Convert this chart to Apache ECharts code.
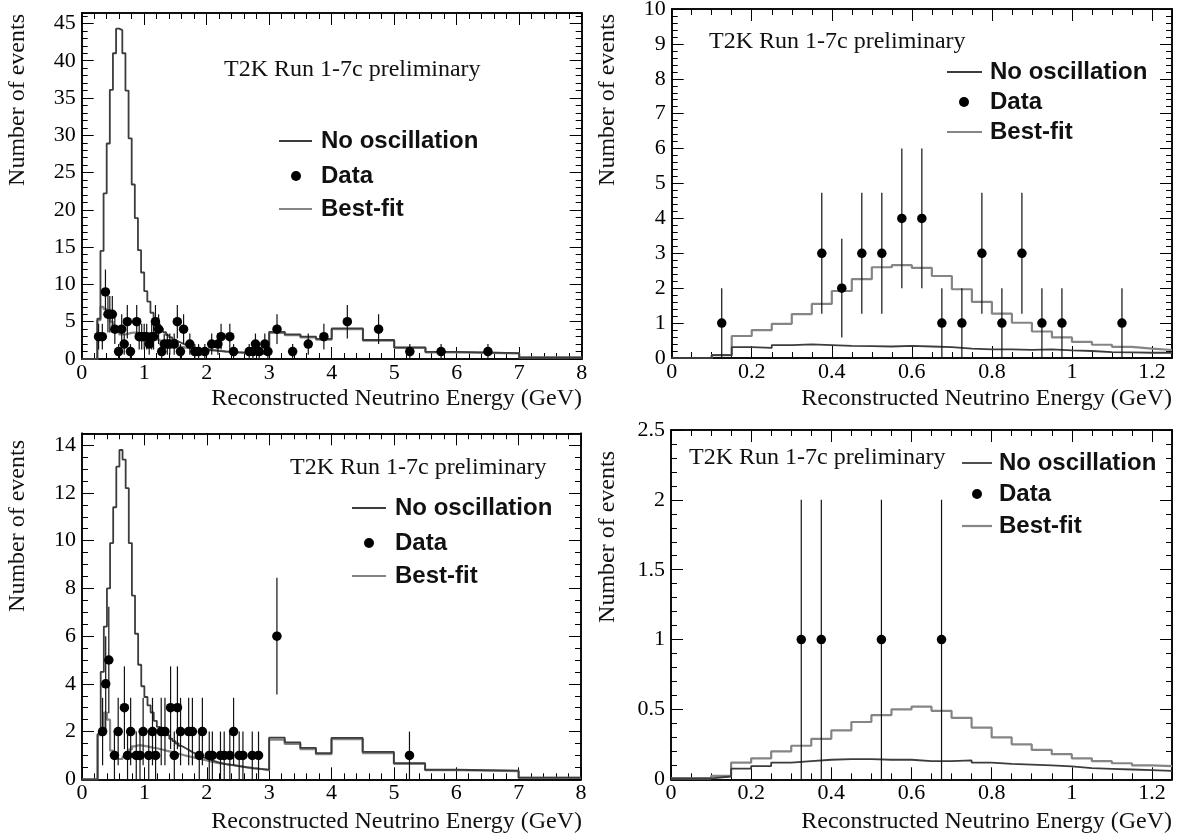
<!DOCTYPE html>
<html><head><meta charset="utf-8">
<script src="https://cdn.jsdelivr.net/npm/echarts@6/dist/echarts.min.js"></script>
<style>html,body{margin:0;padding:0;background:#fff}#c{width:1184px;height:836px}</style>
</head><body><div id="c"></div>
<script>
// ---------------- DATA ----------------
const FINE_W = 0.05;
const COARSE_EDGES = [3.0, 3.25, 3.5, 3.75, 4.0, 4.5, 5.0, 5.5, 6.0, 7.0, 8.0];
const LABELS = {title: 'T2K Run 1-7c preliminary', noOsc: 'No oscillation', data: 'Data', best: 'Best-fit',
  xTitle: 'Reconstructed Neutrino Energy (GeV)', yTitle: 'Number of events'};

// Panel 1 (top-left): 0.05 GeV bins 0-3 GeV, then coarse bins 3-8 GeV
const p1NoOscFine = [0,0,0,0,0, 5.4,14.5,22.2,28.9,36.1, 41.0,44.3,44.1,41.0,36.0, 29.6,23.4,18.9,14.6,11.6,
  9.1,7.7,6.2,5.4,4.7, 4.1,3.6,3.2,2.9,2.6, 2.35,2.15,1.95,1.8,1.65, 1.55,1.47,1.4,1.34,1.3,
  1.24,1.19,1.15,1.1,1.06, 1.02,0.99,0.96,0.93,0.9, 0.88,0.86,0.84,0.82,0.8, 0.78,0.76,0.74,0.72,0.7];
const p1BestFine = [0,0,0,0,0, 5.2,7.0,6.7,6.0,5.0, 4.2,3.6,3.3,3.3,3.4, 3.5,3.55,3.5,3.4,3.3,
  3.1,2.95,2.8,2.65,2.5, 2.35,2.2,2.05,1.9,1.8, 1.7,1.62,1.55,1.5,1.45, 1.4,1.36,1.32,1.28,1.25,
  1.2,1.16,1.12,1.08,1.04, 1.0,0.97,0.94,0.91,0.88, 0.86,0.84,0.82,0.8,0.78, 0.76,0.74,0.72,0.7,0.68];
const p1NoOscCoarse = [3.65,3.3,3.0,2.7,4.1,2.55,1.55,0.95,0.78,0.2];
const p1BestCoarse = [3.5,3.2,2.9,2.6,4.0,2.45,1.5,0.9,0.75,0.2];
const p1DataE = [0.27,0.33,0.38,0.42,0.45,0.49,0.53,0.59,0.64,0.68,0.73,0.78,0.88,0.92,0.96,1.00,1.04,1.08,
  1.12,1.15,1.18,1.23,1.28,1.32,1.37,1.41,1.48,1.53,1.58,1.63,1.73,1.81,1.87,1.97,2.08,2.18,2.23,2.37,2.43,
  2.68,2.74,2.78,2.84,2.93,2.98,3.125,3.375,3.625,3.875,4.25,4.75,5.25,5.75,6.5];
const p1DataN = [3,3,9,6,6,6,4,1,4,2,5,1,5,3,3,3,3,2,3,3,5,4,1,2,2,2,2,5,1,4,2,1,1,1,2,2,3,3,1,1,1,2,1,2,1,
  4,1,2,3,5,4,1,1,1];

// Panel 2 (top-right): 0.05 GeV bins 0-1.25 GeV
const p2Best = [0,0,0.08,0.63,0.8, 0.98,1.26,1.55,1.92,2.26, 2.6,2.66,2.58,2.35,1.97, 1.61,1.27,1.01,0.76,0.59, 0.46,0.38,0.32,0.27,0.23];
const p2NoOsc = [0,0,0.08,0.31,0.29, 0.37,0.39,0.37,0.35,0.34, 0.33,0.35,0.33,0.31,0.27, 0.25,0.25,0.23,0.25,0.22, 0.2,0.17,0.16,0.15,0.15];
const p2DataE = [0.125,0.375,0.425,0.475,0.525,0.575,0.625,0.675,0.725,0.775,0.825,0.875,0.925,0.975,1.125];
const p2DataN = [1,3,2,3,3,4,4,1,1,3,1,3,1,1,1];

// Panel 3 (bottom-left)
const p3NoOscFine = [0,0,0,0,0, 1.9,4.5,6.4,8.0,9.9, 11.4,13.1,13.8,13.4,12.2, 9.9,7.7,6.1,4.8,3.9,
  3.45,3.1,2.8,2.45,2.2, 2.05,1.95,1.85,1.7,1.6, 1.5,1.4,1.32,1.25,1.17, 1.1,1.03,0.97,0.92,0.87,
  0.82,0.78,0.74,0.7,0.67, 0.64,0.62,0.6,0.58,0.56, 0.54,0.52,0.5,0.49,0.47, 0.46,0.44,0.43,0.42,0.4];
const p3BestFine = [0,0,0,0,0, 1.85,1.9,2.8,2.5,1.2, 0.95,0.85,0.85,0.95,1.1, 1.25,1.38,1.42,1.42,1.4,
  1.38,1.35,1.32,1.3,1.27, 1.24,1.2,1.17,1.14,1.1, 1.07,1.04,1.0,0.97,0.94, 0.91,0.88,0.85,0.82,0.79,
  0.76,0.73,0.7,0.68,0.66, 0.64,0.62,0.6,0.58,0.56, 0.54,0.52,0.5,0.48,0.46, 0.45,0.44,0.42,0.4,0.38];
const p3NoOscCoarse = [1.75,1.55,1.32,1.1,1.74,1.15,0.68,0.4,0.36,0.07];
const p3BestCoarse = [1.66,1.48,1.26,1.05,1.68,1.1,0.65,0.38,0.34,0.06];
const p3DataE = [0.33,0.38,0.43,0.52,0.58,0.68,0.73,0.78,0.87,0.93,0.98,1.07,1.13,1.18,1.27,1.33,1.42,1.48,
  1.53,1.58,1.71,1.77,1.88,1.93,2.04,2.09,2.22,2.28,2.37,2.43,2.52,2.58,2.73,2.83,3.125,5.25];
const p3DataN = [2,4,5,1,2,3,1,2,1,1,2,1,2,1,2,2,3,1,3,2,2,2,1,2,1,1,1,1,1,2,1,1,1,1,6,1];

// Panel 4 (bottom-right)
const p4Best = [0.007,0.007,0.024,0.12,0.15, 0.2,0.24,0.29,0.35,0.41, 0.46,0.5,0.52,0.49,0.44, 0.37,0.3,0.25,0.21,0.18, 0.15,0.13,0.115,0.1,0.095];
const p4NoOsc = [0.007,0.007,0.02,0.076,0.095, 0.12,0.13,0.14,0.145,0.145, 0.14,0.14,0.13,0.13,0.135, 0.12,0.11,0.105,0.1,0.093, 0.08,0.075,0.07,0.065,0.06];
const p4DataE = [0.325,0.375,0.525,0.675];
const p4DataN = [1,1,1,1];

// ---------------- BUILD ----------------
const SERIF = '"Liberation Serif","Times New Roman",serif';
const SANS = '"Liberation Sans",Arial,Helvetica,sans-serif';
const C_NOOSC = '#3c3c3c', C_BEST = '#858585', C_DATA = '#000000';

function fineEdges(n) { const e = []; for (let k = 0; k <= n; k++) e.push(+(k * FINE_W).toFixed(3)); return e; }
function stepData(edges, vals) {
  const d = vals.map((v, i) => [edges[i], v]);
  d.push([edges[vals.length], vals[vals.length - 1]]);
  return d;
}
const wideEdges = fineEdges(60).concat(COARSE_EDGES.slice(1));
const narrowEdges = fineEdges(25);

const panels = [
  {grid: {left: 81.7, top: 13, width: 500, height: 346}, x: [0, 8, 1, 0.2], y: [0, 46.4, 5, 1],
   noOsc: stepData(wideEdges, p1NoOscFine.concat(p1NoOscCoarse)), best: stepData(wideEdges, p1BestFine.concat(p1BestCoarse)),
   dE: p1DataE, dN: p1DataN,
   title: [224, 70], leg: {x1: 279, x2: 312, tx: 321, ys: [141, 176, 209], dot: 296},
   yt: [18, 14], xt: [582, 399]},
  {grid: {left: 671.7, top: 9, width: 500.3, height: 349}, x: [0, 1.25, 0.2, 0.05], y: [0, 10, 1, 0.2],
   noOsc: stepData(narrowEdges, p2NoOsc), best: stepData(narrowEdges, p2Best),
   dE: p2DataE, dN: p2DataN,
   title: [709, 42], leg: {x1: 947, x2: 982, tx: 990, ys: [72, 102, 132], dot: 964},
   yt: [608, 14], xt: [1172, 399]},
  {grid: {left: 82, top: 433.3, width: 499, height: 346}, x: [0, 8, 1, 0.2], y: [0, 14.5, 2, 0.5],
   noOsc: stepData(wideEdges, p3NoOscFine.concat(p3NoOscCoarse)), best: stepData(wideEdges, p3BestFine.concat(p3BestCoarse)),
   dE: p3DataE, dN: p3DataN,
   title: [290, 468], leg: {x1: 352, x2: 386, tx: 395, ys: [508, 543, 576], dot: 369},
   yt: [18, 440], xt: [582, 822]},
  {grid: {left: 671, top: 430, width: 501, height: 349.3}, x: [0, 1.25, 0.2, 0.05], y: [0, 2.5, 0.5, 0.1],
   noOsc: stepData(narrowEdges, p4NoOsc), best: stepData(narrowEdges, p4Best),
   dE: p4DataE, dN: p4DataN,
   title: [689, 458], leg: {x1: 962, x2: 992, tx: 999, ys: [463, 494, 526], dot: 977},
   yt: [608, 451], xt: [1172, 822]}
];

function fmt(step) {
  return v => { const r = v / step; if (Math.abs(r - Math.round(r)) > 1e-6) return ''; return String(+v.toFixed(3)); };
}

const grids = [], xAxes = [], yAxes = [], series = [], graphics = [];
panels.forEach((p, gi) => {
  grids.push(Object.assign({outerBoundsMode: 'none', containLabel: false}, p.grid));
  const lineStyle = {color: '#000', width: 1.5};
  const mk = (kind, rng, pos, major, labels) => ({
    type: 'value', gridIndex: gi, position: pos, min: rng[0], max: rng[1],
    interval: major ? rng[2] : rng[3],
    splitLine: {show: false},
    axisLine: {show: true, onZero: false, lineStyle},
    axisTick: {show: true, inside: true, length: major ? 12 : 6, lineStyle: {color: '#000', width: 1}},
    axisLabel: labels ? {show: true, margin: kind === 'x' ? 3 : 6, fontFamily: SERIF, fontSize: 22, color: '#000',
      formatter: fmt(rng[2]), showMinLabel: true, showMaxLabel: true, hideOverlap: false} : {show: false}
  });
  xAxes.push(mk('x', p.x, 'bottom', true, true), mk('x', p.x, 'bottom', false, false),
             mk('x', p.x, 'top', true, false), mk('x', p.x, 'top', false, false));
  yAxes.push(mk('y', p.y, 'left', true, true), mk('y', p.y, 'left', false, false),
             mk('y', p.y, 'right', true, false), mk('y', p.y, 'right', false, false));
  const ax = {xAxisIndex: gi * 4, yAxisIndex: gi * 4};
  series.push(Object.assign({type: 'line', name: LABELS.best, step: 'end', showSymbol: false, data: p.best,
    lineStyle: {color: C_BEST, width: 2.2}, z: 2, animation: false, clip: true}, ax));
  series.push(Object.assign({type: 'line', name: LABELS.noOsc, step: 'end', showSymbol: false, data: p.noOsc,
    lineStyle: {color: C_NOOSC, width: 1.8}, z: 3, animation: false, clip: true}, ax));
  series.push(Object.assign({type: 'custom', name: 'err', coordinateSystem: 'cartesian2d', animation: false, z: 4,
    data: p.dE.map((e, i) => [e, p.dN[i], Math.sqrt(p.dN[i])]),
    renderItem: (params, api) => {
      const x = api.value(0), n = api.value(1), s = api.value(2);
      const a = api.coord([x, n - s]), b = api.coord([x, n + s]);
      return {type: 'line', shape: {x1: a[0], y1: a[1], x2: b[0], y2: b[1]}, style: {stroke: '#111', lineWidth: 1.2}};
    }}, ax));
  series.push(Object.assign({type: 'scatter', name: LABELS.data, symbol: 'circle', symbolSize: 9.5,
    itemStyle: {color: C_DATA, opacity: 1}, data: p.dE.map((e, i) => [e, p.dN[i]]), z: 5, animation: false}, ax));

  // texts
  graphics.push({type: 'text', x: p.title[0], y: p.title[1], style: {text: LABELS.title, font: '24px ' + SERIF,
    fill: '#111', align: 'left', verticalAlign: 'middle'}});
  const L = p.leg;
  graphics.push({type: 'line', shape: {x1: L.x1, y1: L.ys[0], x2: L.x2, y2: L.ys[0]}, style: {stroke: C_NOOSC, lineWidth: 1.8}});
  graphics.push({type: 'circle', shape: {cx: L.dot, cy: L.ys[1], r: 5}, style: {fill: C_DATA}});
  graphics.push({type: 'line', shape: {x1: L.x1, y1: L.ys[2], x2: L.x2, y2: L.ys[2]}, style: {stroke: C_BEST, lineWidth: 2.2}});
  [LABELS.noOsc, LABELS.data, LABELS.best].forEach((t, i) => graphics.push({type: 'text', x: L.tx, y: L.ys[i],
    style: {text: t, font: 'bold 24px ' + SANS, fill: '#111', align: 'left', verticalAlign: 'middle'}}));
  graphics.push({type: 'text', x: p.xt[0], y: p.xt[1], style: {text: LABELS.xTitle, font: '24px ' + SERIF,
    fill: '#111', align: 'right', verticalAlign: 'middle'}});
  graphics.push({type: 'text', x: p.yt[0], y: p.yt[1], rotation: Math.PI / 2, style: {text: LABELS.yTitle,
    font: '24px ' + SERIF, fill: '#111', align: 'right', verticalAlign: 'middle'}});
});

const chart = echarts.init(document.getElementById('c'), null, {renderer: 'canvas'});
chart.setOption({
  backgroundColor: '#ffffff', animation: false,
  grid: grids, xAxis: xAxes, yAxis: yAxes, series: series,
  graphic: {elements: graphics}
});
</script></body></html>
